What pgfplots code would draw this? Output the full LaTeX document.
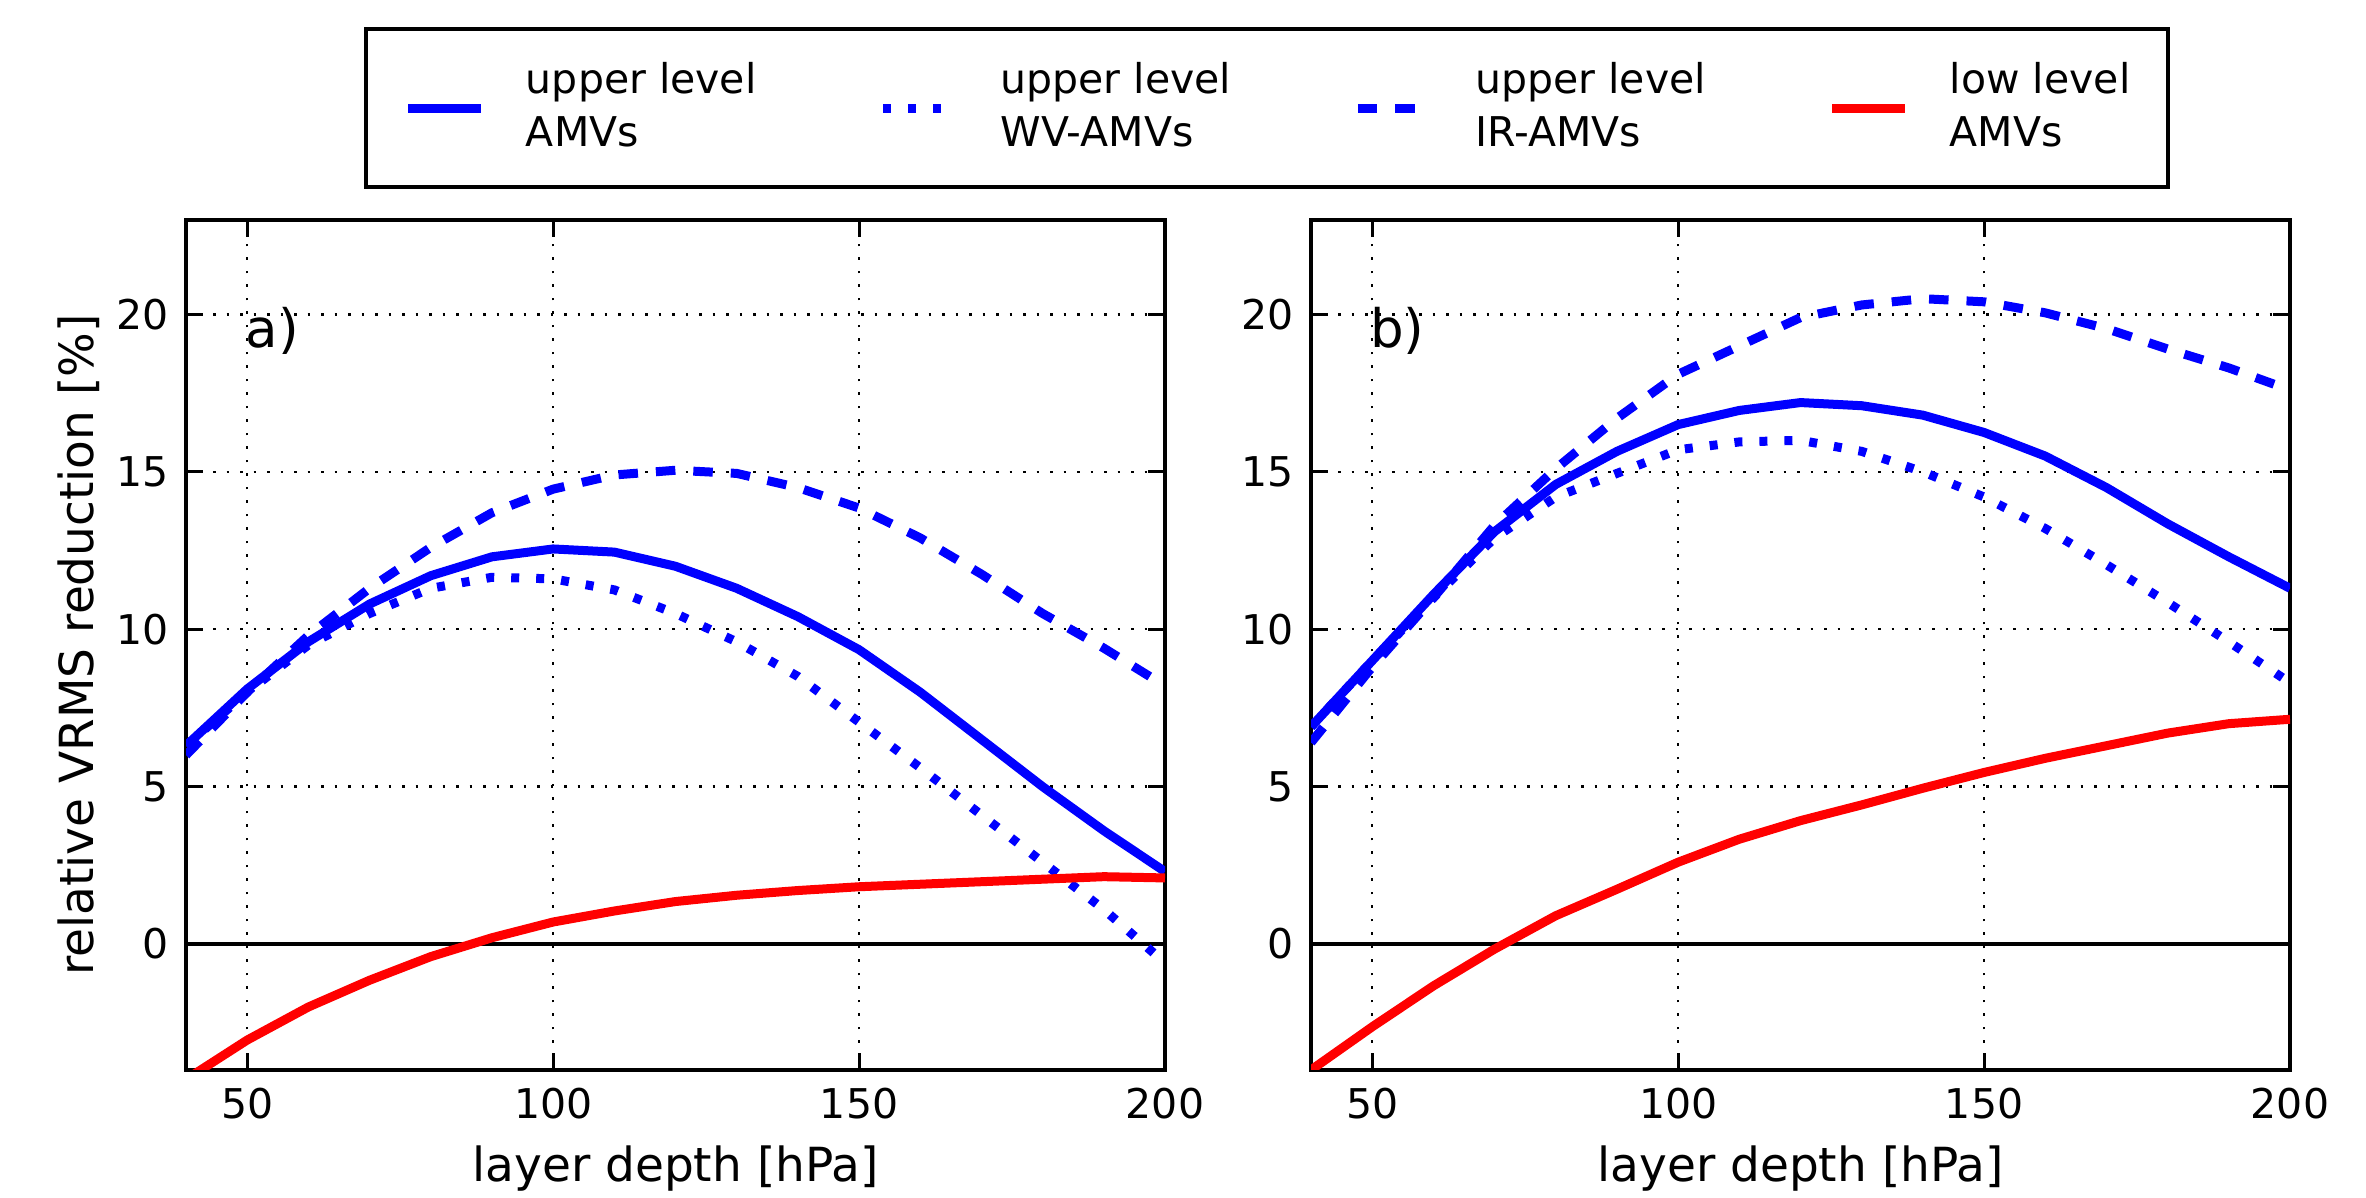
\documentclass[border=0pt]{standalone}
\usepackage{fontspec}
\setmainfont{DejaVu Sans}
\usepackage{pgfplots}
\usepackage{pgfplotstable}
\pgfplotsset{compat=1.18}

\pgfplotstableread{
x    s      w      ir     low
40   6.3    6.3    6.0    -4.3
50   8.1    8.0    8.0    -3.05
60   9.6    9.5    9.8    -2.0
70   10.8   10.5   11.3   -1.15
80   11.7   11.3   12.6   -0.4
90   12.3   11.65  13.7   0.2
100  12.55  11.6   14.45  0.7
110  12.45  11.25  14.9   1.05
120  12.0   10.5   15.05  1.35
130  11.3   9.6    14.95  1.55
140  10.4   8.5    14.5   1.7
150  9.35   7.05   13.85  1.82
160  8.0    5.6    12.9   1.9
170  6.5    4.1    11.75  1.98
180  5.0    2.6    10.5   2.06
190  3.6    1.1    9.4    2.14
200  2.3    -0.6   8.2    2.1
}\dataA

\pgfplotstableread{
x    s      w      ir     low
40   6.9    6.9    6.4    -4.0
50   9.0    9.0    8.8    -2.63
60   11.1   11.0   11.0   -1.33
70   13.1   12.9   13.3   -0.16
80   14.6   14.2   15.1   0.9
90   15.65  14.95  16.7   1.74
100  16.5   15.7   18.1   2.6
110  16.95  15.95  19.0   3.33
120  17.2   16.0   19.9   3.92
130  17.1   15.65  20.3   4.42
140  16.8   15.0   20.5   4.95
150  16.25  14.2   20.4   5.45
160  15.5   13.2   20.05  5.9
170  14.5   12.05  19.55  6.3
180  13.35  10.85  18.9   6.7
190  12.3   9.6    18.3   7.0
200  11.3   8.3    17.6   7.14
}\dataB

\pgfplotsset{
  panel/.style={
    scale only axis, width=195.8pt, height=170pt,
    xmin=40, xmax=200, ymin=-4, ymax=23,
    xtick={50,100,150,200}, ytick={0,5,10,15,20},
    tick align=inside, major tick length=3.4pt,
    tick style={black, line width=0.6pt},
    axis line style={line width=0.7pt},
    grid=major,
    major grid style={black, line width=0.5pt, dash pattern=on 0.5pt off 2.2pt},
    ticklabel style={font=\fontsize{8.2}{10}\selectfont},
    /pgf/number format/assume math mode=true,
    label style={font=\fontsize{9.4}{11}\selectfont},
    xlabel={layer depth [hPa]},
    xlabel style={at={(axis description cs:0.5,-0.1165)}, anchor=center},
  },
  sU/.style={blue, line width=1.8pt},
  sW/.style={blue, line width=1.8pt, dash pattern=on 1.6pt off 3.4pt},
  sI/.style={blue, line width=1.8pt, dash pattern=on 3.9pt off 3.6pt},
  sL/.style={red, line width=1.8pt},
}

\begin{document}
\begin{tikzpicture}
\path[use as bounding box] (-37.2pt,-25.6pt) rectangle (436pt,214pt);

\begin{axis}[panel, at={(0pt,0pt)}, anchor=south west,
  ylabel={relative VRMS reduction [\%]},
  ylabel style={at={(axis description cs:-0.110,0.5)}, anchor=center},
  legend columns=4,
  legend image code/.code={\draw[#1] (0pt,0pt) -- (14.6pt,0pt);},
  legend style={at={(axis description cs:0.1818,1.2271)}, anchor=north west,
    draw=black, line width=0.8pt, inner xsep=7.6pt, inner ysep=6.65pt,
    font=\fontsize{8.2}{10.6}\selectfont,
    nodes={inner sep=0pt},
    cells={anchor=west, align=left},
    /tikz/every odd column/.append style={column sep=8.0pt},
    /tikz/every even column/.append style={column sep=24.4pt}},
]
\draw[black, line width=0.7pt] (axis cs:40,0) -- (axis cs:200,0);
\addplot[sU] table[x=x, y=s] {\dataA};
\addlegendentry{upper level\\AMVs}
\addplot[sW] table[x=x, y=w] {\dataA};
\addlegendentry{upper level\\WV-AMVs}
\addplot[sI] table[x=x, y=ir] {\dataA};
\addlegendentry{upper level\\IR-AMVs}
\addplot[sL] table[x=x, y=low] {\dataA};
\addlegendentry{low level\\AMVs}
\node[anchor=base west, inner sep=0pt, font=\fontsize{10.6}{12}\selectfont] at (axis cs:49.6,18.95) {a)};
\end{axis}

\begin{axis}[panel, at={(225pt,0pt)}, anchor=south west]
\draw[black, line width=0.7pt] (axis cs:40,0) -- (axis cs:200,0);
\addplot[sU] table[x=x, y=s] {\dataB};
\addplot[sW] table[x=x, y=w] {\dataB};
\addplot[sI] table[x=x, y=ir] {\dataB};
\addplot[sL] table[x=x, y=low] {\dataB};
\node[anchor=base west, inner sep=0pt, font=\fontsize{10.6}{12}\selectfont] at (axis cs:49.5,18.95) {b)};
\end{axis}
\end{tikzpicture}
\end{document}
